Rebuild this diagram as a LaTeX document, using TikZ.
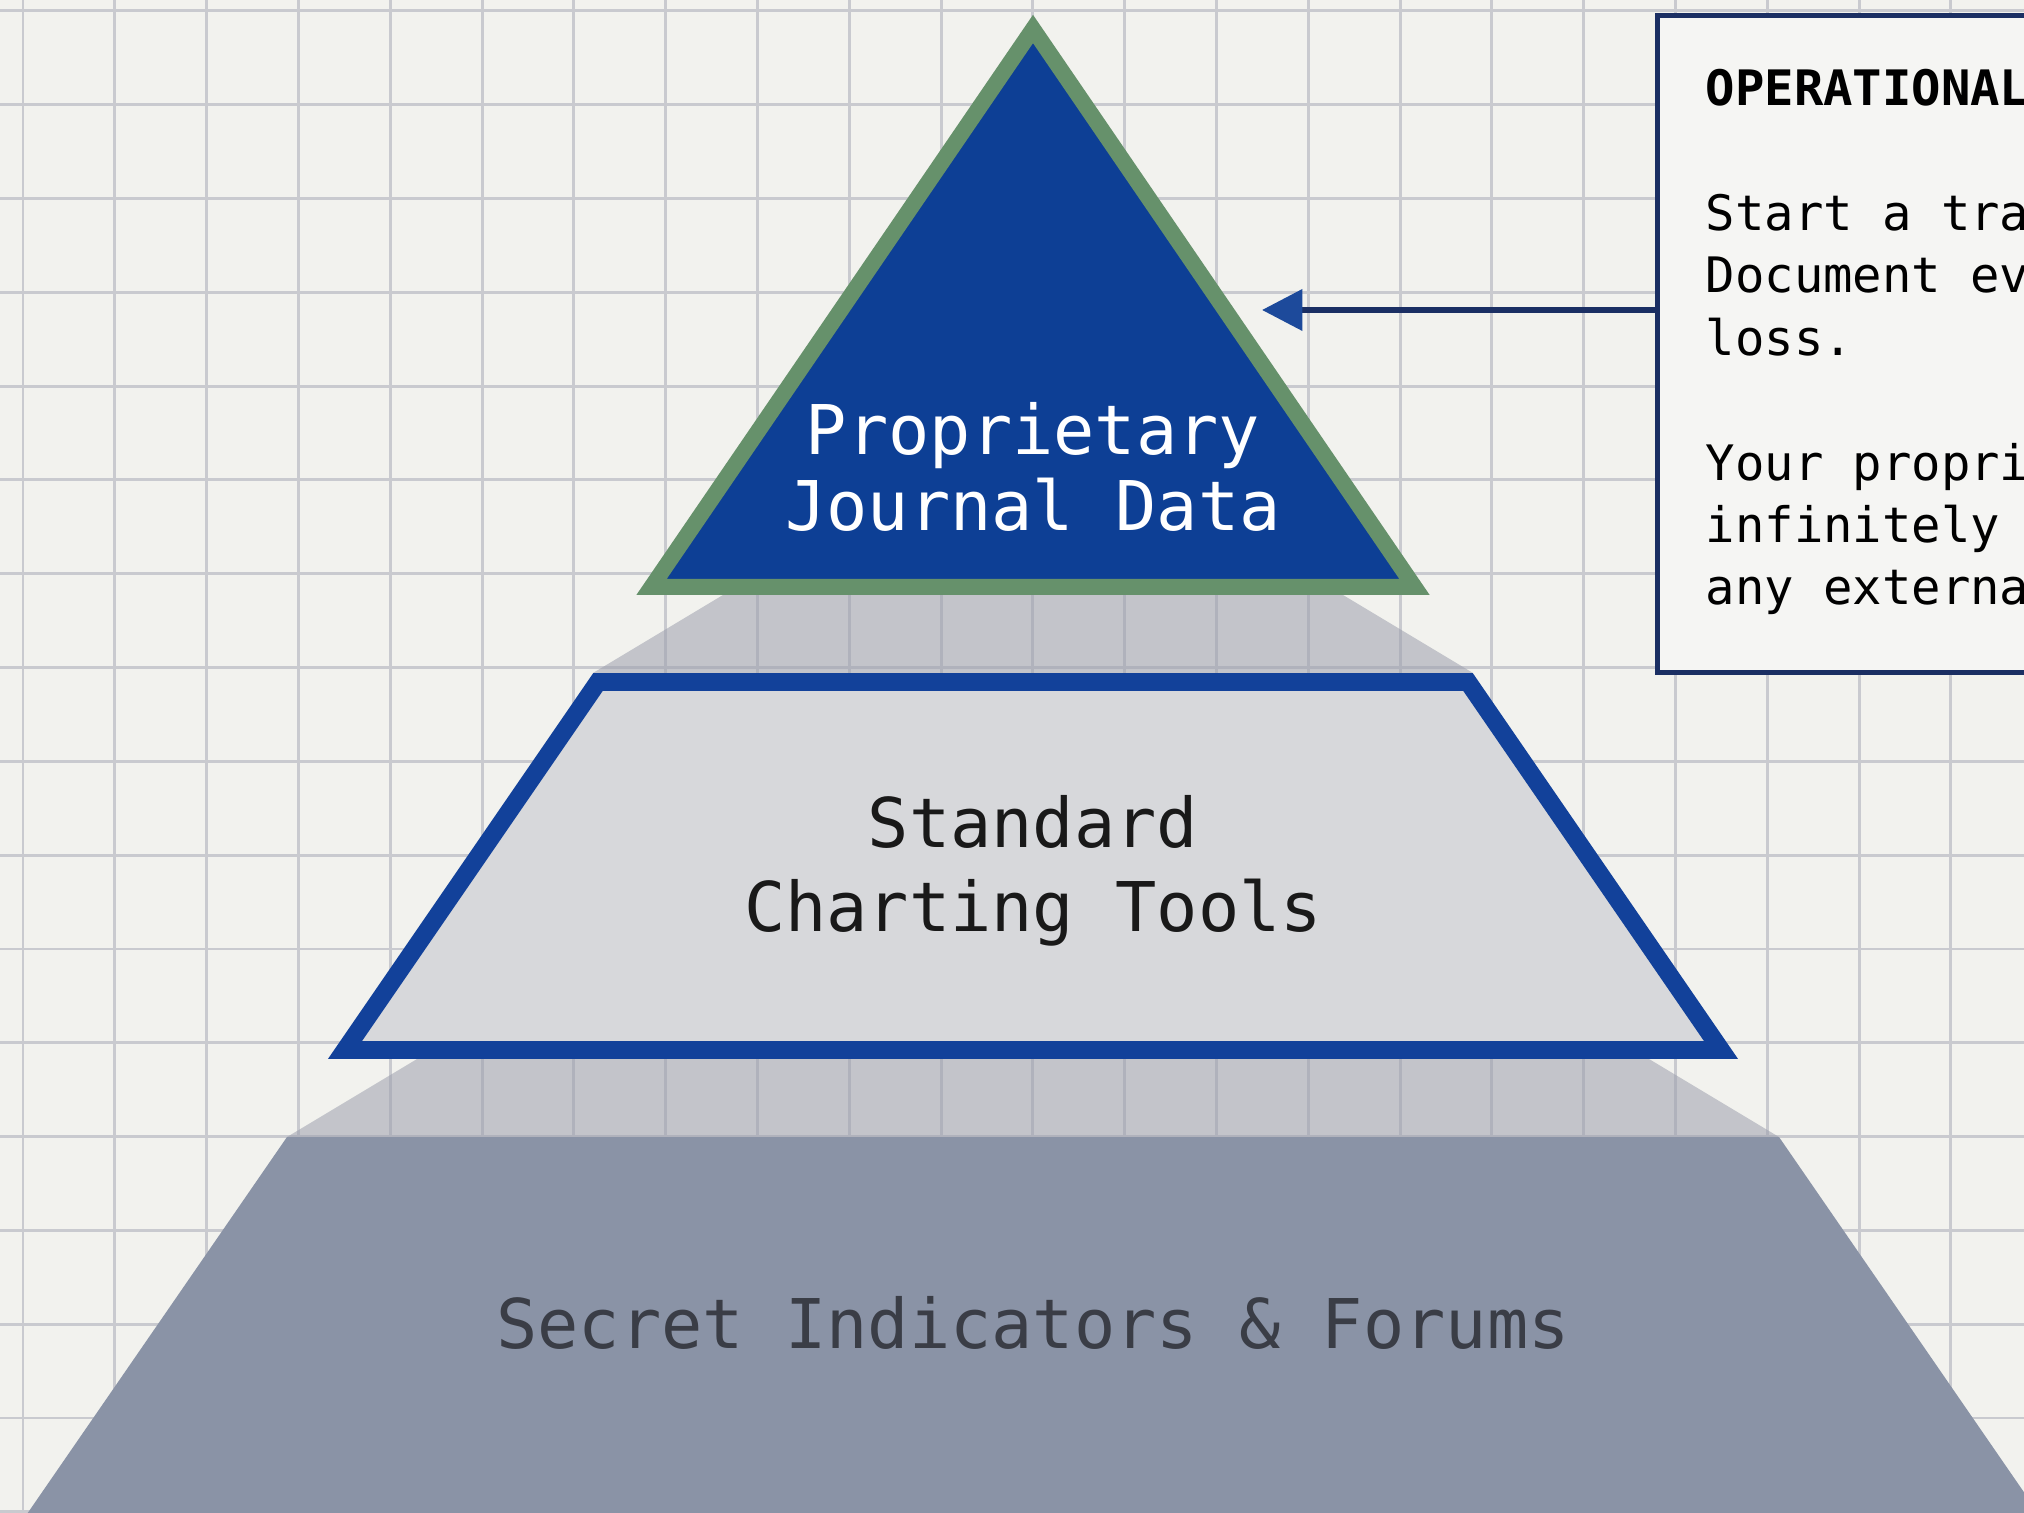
\documentclass[tikz,border=0pt]{standalone}
\usepackage{fontspec}
\setmonofont{DejaVu Sans Mono}
\usetikzlibrary{arrows.meta}
\definecolor{paper}{HTML}{F2F2EE}
\definecolor{gridline}{HTML}{C9CACF}
\definecolor{topblue}{HTML}{0D3F95}
\definecolor{topgreen}{HTML}{66916B}
\definecolor{midfill}{HTML}{D7D8DB}
\definecolor{midblue}{HTML}{12419A}
\definecolor{basefill}{HTML}{8A93A6}
\definecolor{basetext}{HTML}{3A3D46}
\definecolor{bandgrey}{HTML}{9DA0AE}
\definecolor{navy}{HTML}{1B2F63}
\definecolor{arrowblue}{HTML}{1D4A9B}
\definecolor{notefill}{HTML}{F5F5F3}
\begin{document}
\begin{tikzpicture}[x=0.01cm, y=-0.01cm,
    tierlabel/.style={font=\ttfamily\fontsize{19.5}{23}\selectfont, inner sep=0pt, anchor=base},
    notetext/.style={font=\ttfamily\fontsize{13.9}{17}\selectfont, inner sep=0pt, anchor=base west},
    band/.style={fill=bandgrey, fill opacity=0.55}]
      \useasboundingbox (0,0) rectangle (2024,1513);
      \fill[paper] (0,0) rectangle (2024,1513);
      % squared paper
      \foreach \i in {0,...,21}
        \draw[gridline, line width=0.85pt] ({23+91.8*\i},0) -- ({23+91.8*\i},1513);
      \foreach \j in {0,...,16}
        \draw[gridline, line width=0.85pt] (0,{11+93.8*\j}) -- (2024,{11+93.8*\j});
      % shaded bands between the tiers
      \fill[band] (723,595) -- (1343,595) -- (1473,673) -- (593,673) -- cycle;
      \fill[band] (417,1059) -- (1649,1059) -- (1779,1137) -- (287,1137) -- cycle;
      % the three tiers
      \fill[basefill] (287,1137) -- (1779,1137) -- (2050,1530) -- (16,1530) -- cycle;
      \draw[midblue, fill=midfill, line width=5.1pt, line join=miter]
            (598,682) -- (1468,682) -- (1721,1050) -- (345,1050) -- cycle;
      \draw[topgreen, fill=topblue, line width=4.55pt, line join=miter]
            (1033,29) -- (1414.5,587) -- (651.5,587) -- cycle;
      \node[tierlabel, white] (topA) at (1033,455) {Proprietary};
      \node[tierlabel, white] (topB) at (1033,531) {Journal Data};
      \node[tierlabel, black!90] (midA) at (1033,848) {Standard};
      \node[tierlabel, black!90] (midB) at (1033,932) {Charting Tools};
      \node[tierlabel, basetext] (baseA) at (1033,1348) {Secret Indicators \& Forums};
      % callout box
      \node[draw=navy, line width=1.4pt, fill=notefill, minimum width=5cm,
            minimum height=6.57cm, anchor=north west, inner sep=0pt] (callout) at (1655,13) {};
      \node[notetext] (headline) at (1705,106) {\bfseries OPERATIONAL};
      \foreach \yy/\txt [count=\k] in {231/{Start a tra}, 293/{Document ev}, 356/{loss.},
                                        481/{Your propri}, 543/{infinitely}, 605/{any externa}}
        \node[notetext] (line\k) at (1705,\yy) {\txt};
      \coordinate (tip) at (1262,310);
      \draw[navy, line width=1.7pt, -{Triangle[length=11.5pt, width=11.5pt, color=arrowblue]}]
            (callout.west |- tip) -- (tip);
\end{tikzpicture}
\end{document}
